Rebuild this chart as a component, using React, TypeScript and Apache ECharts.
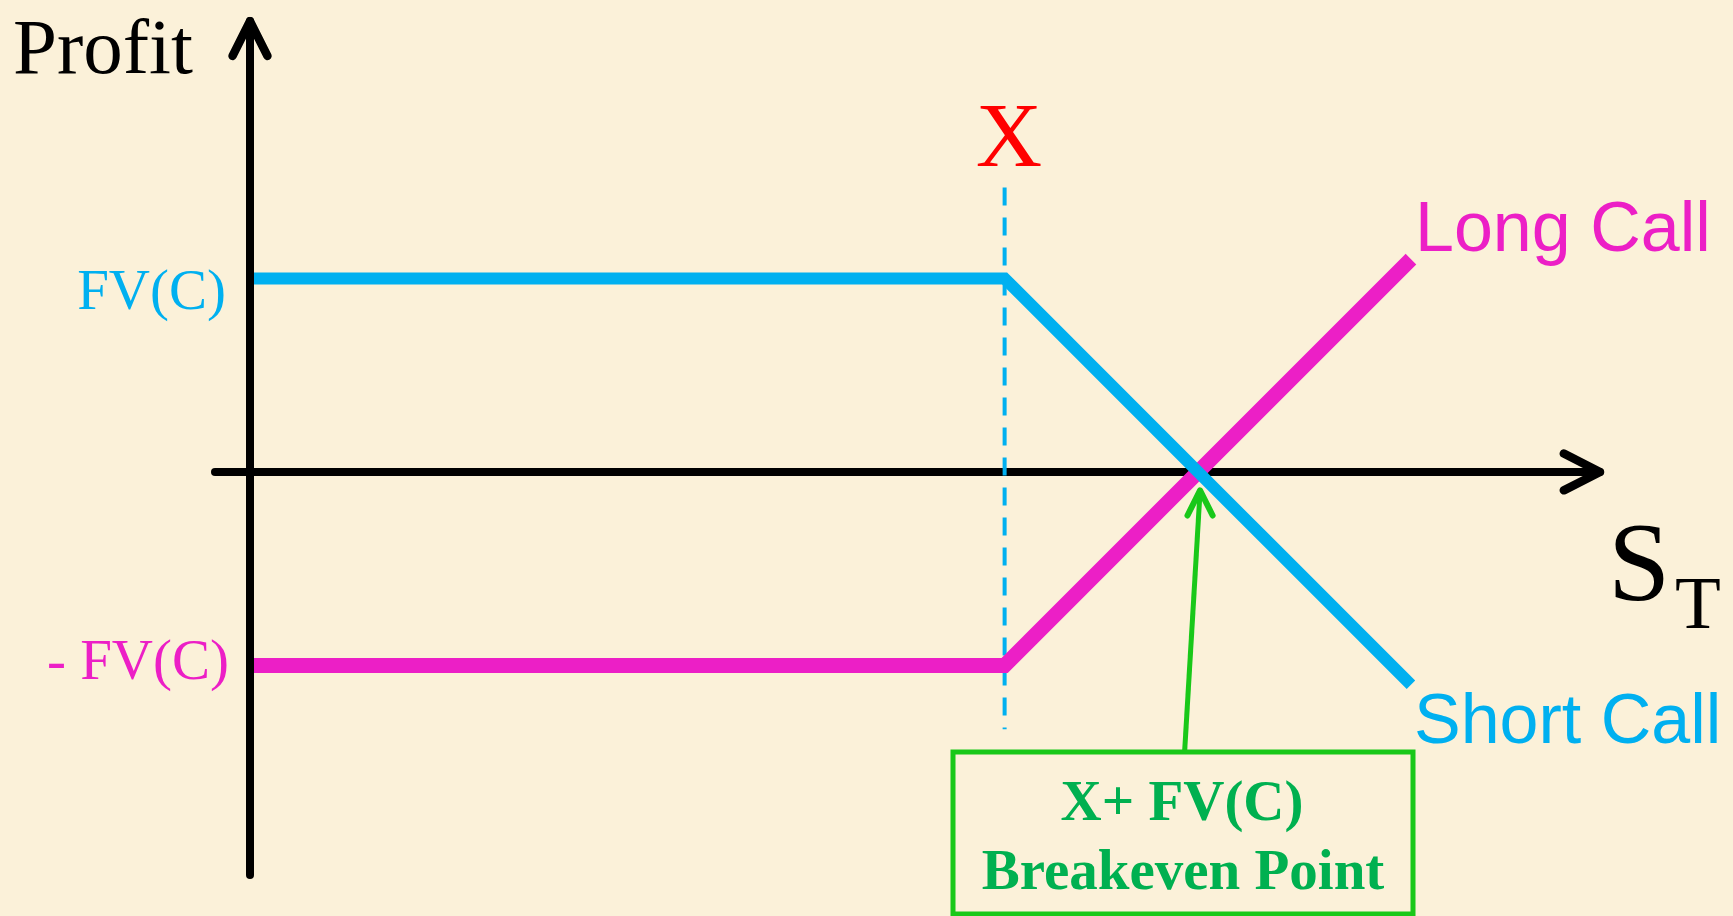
import React, { useEffect, useRef } from "react";
import * as echarts from "echarts";

// Payoff diagram data (units: FV(C) = 1, strike X = 3.9)
const strikeX = 3.9;
const longCall: number[][] = [[0, -1], [3.9, -1], [6, 1.1]];
const shortCall: number[][] = [[0, 1], [3.9, 1], [6, -1.1]];
const strikeDash: number[][] = [[3.9, 1.47], [3.9, -1.33]];
const breakevenShaft: number[][] = [[4.83, -1.45], [4.91, -0.1]];
const breakevenHead: number[][] = [[4.845, -0.225], [4.91, -0.095], [4.975, -0.225]];
const yArrowHead: number[][] = [[-0.09, 2.15], [0, 2.33], [0.09, 2.15]];
const xArrowHead: number[][] = [[6.79, 0.095], [6.977, 0], [6.79, -0.095]];

const X_MIN = -0.1809;
const X_MAX = 6.977;
const Y_MIN = -2.083;
const Y_MAX = 2.3307;

const SERIF = "'Liberation Serif', 'Times New Roman', serif";
const SANS = "'Liberation Sans', Arial, sans-serif";

const BLUE = "#00B0F0";
const MAGENTA = "#EC1FC6";
const GREEN_LINE = "#19C819";
const GREEN_TEXT = "#00B050";

export default function App() {
  const ref = useRef<HTMLDivElement>(null);

  useEffect(() => {
    if (!ref.current) return;
    const chart = echarts.init(ref.current, undefined, { renderer: "svg" });

    const txt = (
      text: string,
      x: number,
      y: number,
      size: number,
      color: string,
      family: string,
      align: string,
      weight: string = "normal"
    ) => ({
      type: "text",
      x,
      y,
      z: 10,
      style: {
        text,
        fill: color,
        font: `${weight} ${size}px ${family}`,
        textAlign: align,
        textVerticalAlign: "middle",
      },
    });

    const option: any = {
      animation: false,
      backgroundColor: "#FBF1D9",
      grid: { left: 215, right: 133, top: 21, bottom: 41 },
      xAxis: {
        type: "value",
        min: X_MIN,
        max: X_MAX,
        axisLine: { show: true, onZero: true, lineStyle: { color: "#000", width: 8 } },
        axisTick: { show: false },
        axisLabel: { show: false },
        splitLine: { show: false },
      },
      yAxis: {
        type: "value",
        min: Y_MIN,
        max: Y_MAX,
        z: 5,
        axisLine: { show: true, onZero: true, lineStyle: { color: "#000", width: 8 } },
        axisTick: { show: false },
        axisLabel: { show: false },
        splitLine: { show: false },
      },
      series: [
        {
          type: "line",
          data: strikeDash,
          symbol: "none",
          z: 1,
          lineStyle: { color: BLUE, width: 4, type: [18, 12] },
        },
        {
          type: "line",
          data: xArrowHead,
          symbol: "none",
          lineStyle: { color: "#000", width: 8.5, cap: "round", join: "round" },
        },
        {
          type: "line",
          data: yArrowHead,
          symbol: "none",
          z: 6,
          lineStyle: { color: "#000", width: 8.5, cap: "round", join: "round" },
        },
        {
          name: "Long Call",
          type: "line",
          data: longCall,
          symbol: "none",
          z: 3,
          lineStyle: { color: MAGENTA, width: 15, join: "miter", cap: "butt" },
        },
        {
          name: "Short Call",
          type: "line",
          data: shortCall,
          symbol: "none",
          z: 4,
          lineStyle: { color: BLUE, width: 12, join: "miter", cap: "butt" },
        },
        {
          type: "line",
          data: breakevenShaft,
          symbol: "none",
          z: 4,
          lineStyle: { color: GREEN_LINE, width: 5 },
        },
        {
          type: "line",
          data: breakevenHead,
          symbol: "none",
          z: 4,
          lineStyle: { color: GREEN_LINE, width: 6, cap: "round", join: "round" },
        },
      ],
      graphic: [
        txt("Profit", 13, 46, 79, "#000", SERIF, "left"),
        txt("X", 1009, 135, 92, "#FF0000", SERIF, "center"),
        txt("FV(C)", 226, 289, 57, BLUE, SERIF, "right"),
        txt("- FV(C)", 229, 659, 57, MAGENTA, SERIF, "right"),
        txt("Long Call", 1415, 227, 70, MAGENTA, SANS, "left"),
        txt("Short Call", 1414, 719, 70, BLUE, SANS, "left"),
        txt("S", 1608, 562, 112, "#000", SERIF, "left"),
        txt("T", 1675, 602, 75, "#000", SERIF, "left"),
        {
          type: "rect",
          z: 9,
          shape: { x: 953, y: 752, width: 460, height: 162 },
          style: { fill: "transparent", stroke: GREEN_LINE, lineWidth: 5 },
        },
        txt("X+ FV(C)", 1182, 800, 57, GREEN_TEXT, SERIF, "center", "bold"),
        txt("Breakeven Point", 1183, 869, 57, GREEN_TEXT, SERIF, "center", "bold"),
      ],
    };

    chart.setOption(option);
    return () => chart.dispose();
  }, []);

  return (
    <div
      ref={ref}
      style={{ position: "fixed", left: 0, top: 0, width: 1733, height: 916 }}
    />
  );
}
